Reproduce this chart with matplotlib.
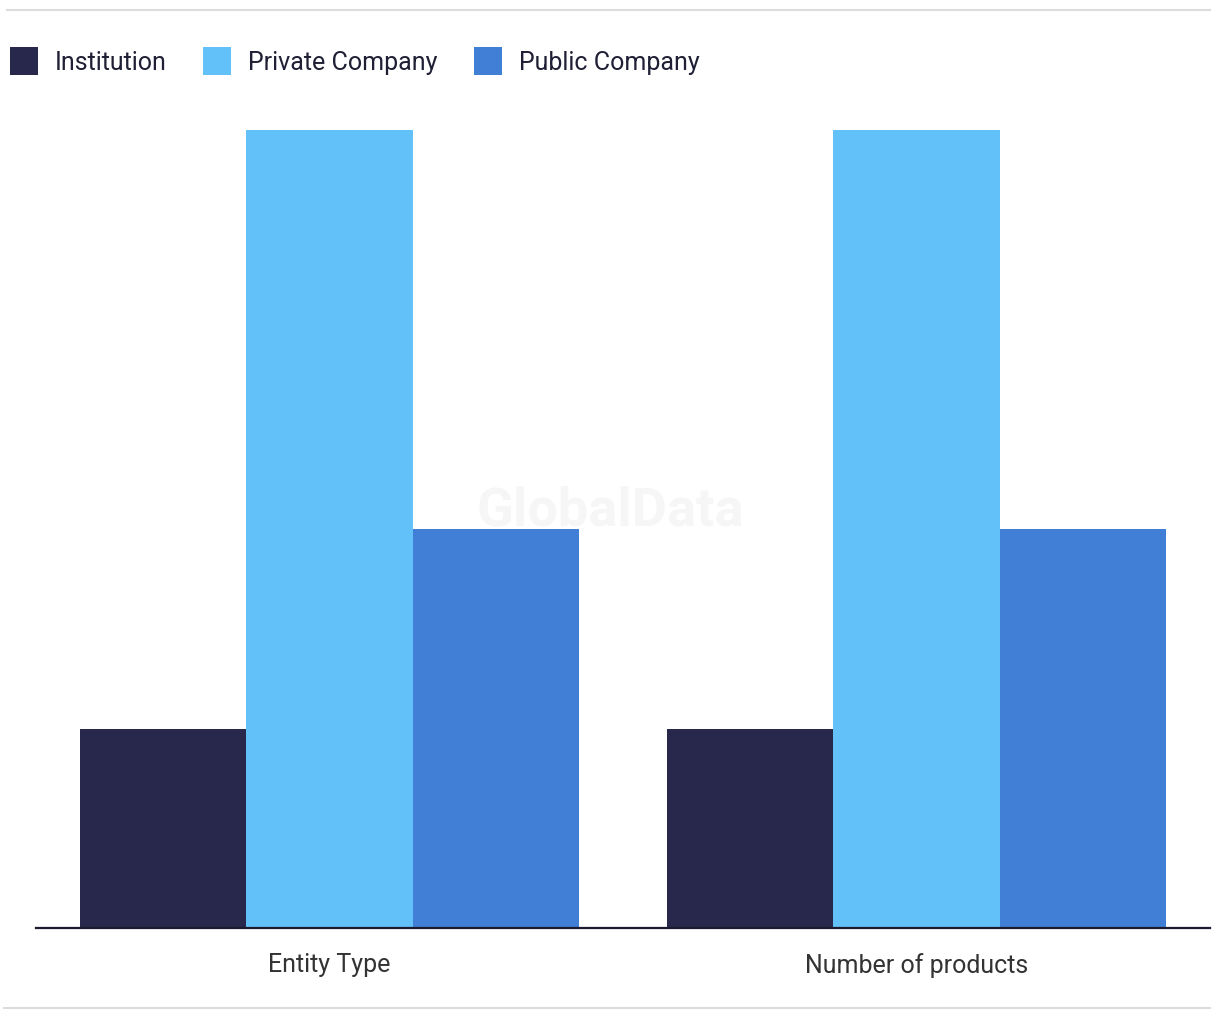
import matplotlib
matplotlib.use("Agg")
import matplotlib.pyplot as plt
from matplotlib.lines import Line2D
from matplotlib.patches import Patch
import numpy as np

categories = ["Entity Type", "Number of products"]
series_names = ["Institution", "Private Company", "Public Company"]
institution = [1, 1]
private_company = [4, 4]
public_company = [2, 2]
colors = ["#27284b", "#62c1f8", "#417ed6"]

plt.rcParams['font.family'] = ['Roboto', 'DejaVu Sans']

W, H = 1220, 1020
fig = plt.figure(figsize=(W / 100, H / 100), dpi=100)

ax = fig.add_axes([36 / W, (H - 929) / H, (1210 - 36) / W, (929 - 131) / H])
x = np.arange(len(categories))
bw = 0.85 / 3
for i, (vals, name) in enumerate(zip([institution, private_company, public_company], series_names)):
    ax.bar(x + (i - 1) * bw, vals, width=bw, color=colors[i], label=name, zorder=2)

ax.set_xlim(-0.5, len(categories) - 0.5)
ax.set_ylim(0, max(private_company))
ax.set_yticks([])
for s in ["top", "right", "left"]:
    ax.spines[s].set_visible(False)
ax.spines["bottom"].set_color("#1b1b30")
ax.spines["bottom"].set_linewidth(1.6)
ax.spines["bottom"].set_zorder(3)
ax.set_xticks(x)
ax.set_xticklabels(categories, fontsize=18, color="#333333")
ax.tick_params(axis="x", length=0, pad=17)

# watermark
fig.text(610 / W, 1 - 511 / H, "GlobalData", fontsize=39, fontweight="bold",
         color="#f6f6f6", ha="center", va="center", zorder=0)

# decorative lines
fig.add_artist(Line2D([7 / W, 1210 / W], [1 - 10.5 / H, 1 - 10.5 / H], color="#dcdcdc", lw=1.5))
fig.add_artist(Line2D([4 / W, 1210 / W], [1 - 1008.5 / H, 1 - 1008.5 / H], color="#dcdcdc", lw=1.5))

handles = [Patch(facecolor=c, edgecolor="none") for c in colors]
leg = fig.legend(handles, series_names, loc="upper left", bbox_to_anchor=(10 / W, 1 - 48 / H),
                 ncol=3, frameon=False, fontsize=18, handlelength=1.12, handleheight=1.35,
                 handletextpad=0.68, columnspacing=1.45, labelcolor="#1f1f35",
                 borderpad=0, borderaxespad=0)

fig.savefig("out.png", dpi=100, facecolor="white")
